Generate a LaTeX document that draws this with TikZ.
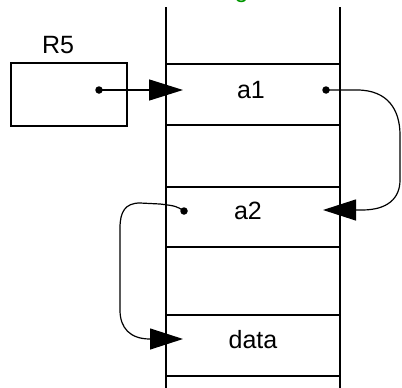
\documentclass[tikz,border=0pt]{standalone}
\usepackage{fontspec}
\setmainfont{Liberation Sans}
\usetikzlibrary{arrows.meta}
\definecolor{lblgreen}{RGB}{0,150,0}
\begin{document}
\begin{tikzpicture}[x=1pt,y=-1pt,
  wall/.style={line width=1.8pt},
  sep/.style={line width=1.7pt},
  lbl/.style={font=\fontsize{25}{30}\selectfont, inner sep=0pt},
  ptr/.style={circle, fill=black, inner sep=0pt, minimum size=7.5pt},
  link/.style={line width=1.5pt, -{Triangle[length=34pt,width=21pt]}},
  curvelink/.style={line width=1.2pt, -{Triangle[length=33pt,width=21pt]}}]
\useasboundingbox (0,0) rectangle (402,388);
% clipped green title (only descender visible)
\node[lbl, text=lblgreen, anchor=base] (title) at (241.5,-2) {g};
% column walls
\draw[wall] (166,7) -- (166,388);
\draw[wall] (340,7) -- (340,388);
% row separators
\foreach \yy in {64,125,187,247,315,376}
  \draw[sep] (166,\yy) -- (340,\yy);
% register box
\node[draw, line width=1.7pt, minimum width=116pt, minimum height=63pt, anchor=north west, inner sep=0pt] (r5box) at (10,62) {};
\node[lbl] (r5) at (58,45) {R5};
% texts
\node[lbl] (a1) at (251,90) {a1};
\node[lbl] (a2) at (248,211) {a2};
\node[lbl] (data) at (253,340) {data};
% pointer dots
\node[ptr] (d0) at (99,90) {};
\node[ptr] (d1) at (326,90) {};
\node[ptr] (d2) at (184,211) {};
% arrow tips
\coordinate (t1) at (183,90);
\coordinate (t2) at (323,210);
\coordinate (t3) at (183,339);
% connectors
\draw[link] (d0.center) -- (t1);
\draw[curvelink] (d1.center) -- (357,90) .. controls (388,90) and (400,110) .. (400,135) -- (400,180) .. controls (400,198) and (388,210) .. (362,210) -- (t2);
\draw[curvelink] (d2.center) .. controls (176,206) .. (160,204) -- (140,203) .. controls (125,203) and (120,212) .. (120,228) -- (120,310) .. controls (120,328) and (130,339) .. (150,339) -- (t3);
\end{tikzpicture}
\end{document}
